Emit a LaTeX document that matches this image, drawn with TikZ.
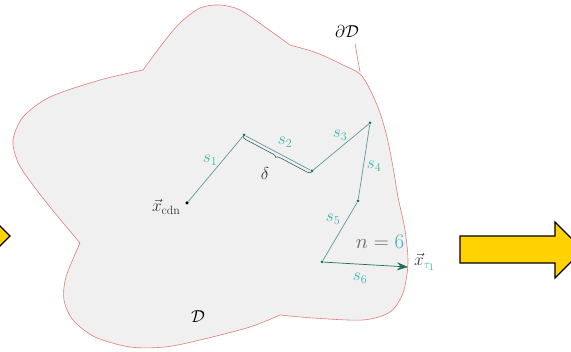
\documentclass[tikz,border=0pt]{standalone}
\usetikzlibrary{decorations.pathreplacing,arrows.meta,calc}
\definecolor{blobfill}{HTML}{F0F0F0}
\definecolor{bndred}{HTML}{E07C7C}
\definecolor{segcol}{HTML}{5E9898}
\definecolor{lblcol}{HTML}{3CB0B0}
\definecolor{arrowyellow}{HTML}{FFD200}
\definecolor{darkteal}{HTML}{1F6F60}
\begin{document}
\begin{tikzpicture}[x=1pt,y=-1pt,
  vdot/.style={circle,fill=darkteal,inner sep=0pt,minimum size=3pt},
  sdot/.style={circle,fill=black,inner sep=0pt,minimum size=3.5pt},
  seg/.style={draw=segcol,line width=0.7pt},
  slbl/.style={text=lblcol,font=\LARGE,inner sep=1pt},
  bigarrow/.style={fill=arrowyellow,draw=black,line width=1.2pt,line join=miter}]
\useasboundingbox (0,0) rectangle (571,352);
\fill[white] (0,0) rectangle (571,352);
\begin{scope}
\clip (0,0) rectangle (571,352);
% yellow arrows
\draw[bigarrow] (-100,222) -- (-18,222) -- (-18,208) -- (10,236) -- (-18,264) -- (-18,250) -- (-100,250) -- cycle;
\draw[bigarrow] (460,236) -- (555,236) -- (555,222) -- (583,250) -- (555,278) -- (555,263) -- (460,263) -- cycle;
\end{scope}
% domain
\filldraw[fill=blobfill,draw=bndred,line width=0.6pt]
  plot[smooth] coordinates {(143,70) (100,80) (50,97) (23,117) (13,140) (17,160) (27,177) (50,207) (80,243)}
  -- plot[smooth] coordinates {(80,243) (66,277) (64,300) (73,320) (95,337) (130,347) (165,347) (200,340) (250,327) (280,315)}
  -- plot[smooth] coordinates {(280,315) (313,318) (363,320) (390,312) (403,293) (408,263) (405,230) (398,197) (393,167) (386,133) (377,105) (362,76) (343,65) (317,53) (290,45)}
  -- plot[smooth] coordinates {(290,45) (265,27) (240,10) (220,5) (200,8) (180,23) (163,43) (143,70)}
  -- cycle;
% labels of domain
\node[font=\LARGE] (dD) at (347,32) {$\partial\mathcal{D}$};
\coordinate (bp) at (360,72);
\draw[bndred,line width=0.6pt] ($(dD.south)+(8,2)$) -- (bp);
\node[font=\LARGE] (D) at (198,317) {$\mathcal{D}$};
% walk
\node[sdot] (n0) at (187,203) {};
\node[vdot] (n1) at (244,135) {};
\node[vdot] (n2) at (312,171) {};
\node[vdot] (n3) at (370,123) {};
\node[vdot] (n4) at (358,201) {};
\node[vdot] (n5) at (322,262) {};
\coordinate (tip) at (408,267);
\draw[seg] (n0) -- (n1) -- (n2) -- (n3) -- (n4) -- (n5);
\draw[seg,draw=darkteal,-{Stealth[length=11pt,width=8pt]}] (n5) -- (tip);
\draw[segcol!60!black,line width=0.6pt,decorate,decoration={brace,mirror,amplitude=3.5pt,raise=1.5pt}] (n1.center) -- (n2.center);
\node[font=\LARGE,text=black!80] (delta) at (265,174) {$\delta$};
\node[font=\LARGE,text=black!80,anchor=east] (xcdn) at (184,207) {$\vec{x}_{\mathrm{cdn}}$};
\node[slbl] (s1) at (210,160) {$s_1$};
\node[slbl] (s2) at (285,142) {$s_2$};
\node[slbl] (s3) at (340,135) {$s_3$};
\node[slbl] (s4) at (374,166) {$s_4$};
\node[slbl] (s5) at (333,219) {$s_5$};
\node[slbl] (s6) at (360,278) {$s_6$};
\node[font=\huge,inner sep=1pt] (nn) at (380,242) {$\color{black!60}n = \color{lblcol}6$};
\node[font=\LARGE,inner sep=1pt,anchor=west] (xt) at (413,262) {$\color{black!80}\vec{x}_{\color{lblcol}\tau_1}$};
\end{tikzpicture}
\end{document}
